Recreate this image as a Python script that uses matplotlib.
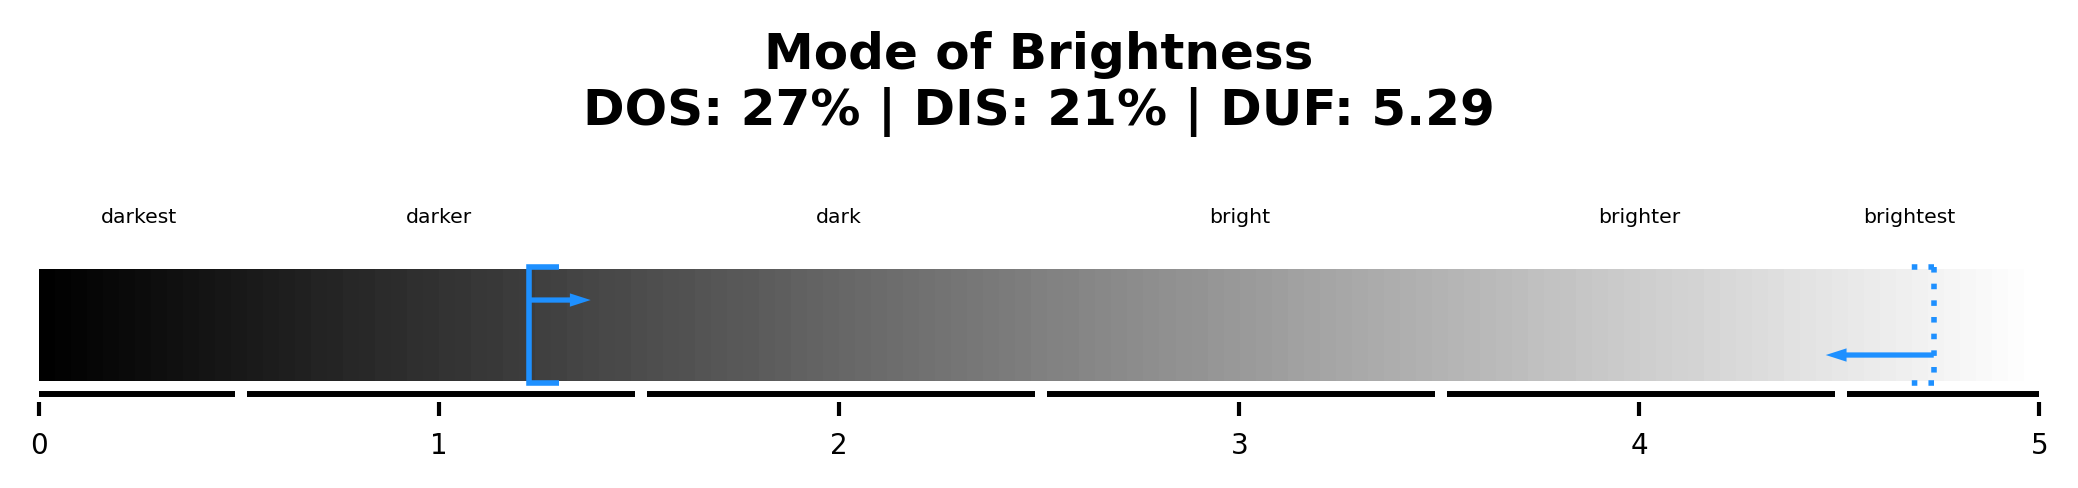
import numpy as np
import matplotlib
matplotlib.use("Agg")
import matplotlib.pyplot as plt

# brightness categories and where their names sit on the scale
categories = ["darkest", "darker", "dark", "bright", "brighter", "brightest"]
label_pos = [0.25, 1.0, 2.0, 3.0, 4.0, 4.675]
# black segment lines under the gradient (one per category)
seg_start = [0.0, 0.52, 1.52, 2.52, 3.52, 4.52]
seg_end = [0.49, 1.49, 2.49, 3.49, 4.49, 5.0]
ticks = [0, 1, 2, 3, 4, 5]

# summary values
dos = 27
dis = 21
duf = 5.29

# markers: solid bracket with right arrow, dotted bracket with left arrow
left_mark = 1.2235
left_arrow_len = 0.155
right_mark = 4.736
right_arrow_len = 0.27

BLUE = "#1E90FF"


def draw_bracket(ax, x, direction, ls, arrow_y, arrow_len):
    """Vertical marker with two caps and an arrow, caps/arrow point to `direction`."""
    top, bot = 1.02, -0.02
    cap = 0.076 * direction
    if ls == "solid":
        ax.plot([x + cap, x, x, x + cap], [top, top, bot, bot], color=BLUE, lw=4,
                solid_joinstyle="miter", solid_capstyle="butt")
    else:
        dots = (0, (1, 2))
        ax.plot([x, x], [top, bot], color=BLUE, lw=4, linestyle=dots)
        ax.plot([x, x + cap], [top, top], color=BLUE, lw=4, linestyle=dots)
        ax.plot([x, x + cap], [bot, bot], color=BLUE, lw=4, linestyle=dots)
    ax.arrow(x, arrow_y, arrow_len * direction, 0, width=0.047, head_width=0.119,
             head_length=0.052, length_includes_head=True, color=BLUE, lw=0)


fig = plt.figure(figsize=(20.78, 4.88), dpi=100)
ax = fig.add_axes([0.0189, 0.1768, 0.9625, 0.4326])

# gradient bar, black -> white (last cell is white, so the visible bar stops near 4.96)
grad = np.linspace(0, 1, 125).reshape(1, -1)
ax.imshow(grad, cmap="gray", vmin=0, vmax=1, aspect="auto",
          extent=[0, 5, 0, 1], interpolation="nearest")

for a, b in zip(seg_start, seg_end):
    ax.plot([a, b], [-0.116, -0.116], color="black", lw=4.3, solid_capstyle="butt")

for name, x in zip(categories, label_pos):
    ax.text(x, 1.408, name, ha="center", va="baseline", fontsize=14.7)

draw_bracket(ax, left_mark, 1, "solid", 0.723, left_arrow_len)
draw_bracket(ax, right_mark, -1, "dotted", 0.232, right_arrow_len)

ax.set_xlim(0, 5)
ax.set_ylim(-0.185, 1.7)
ax.set_xticks(ticks)
ax.set_yticks([])
ax.tick_params(axis="x", length=10, width=3, pad=11.5, labelsize=20)
for sp in ax.spines.values():
    sp.set_visible(False)

# va="baseline" on a two-line text anchors the last line
fig.text(0.5, (488 - 125) / 488,
         "Mode of Brightness\nDOS: %d%% | DIS: %d%% | DUF: %.2f" % (dos, dis, duf),
         ha="center", va="baseline", fontsize=36, fontweight="bold")

fig.savefig("out.png", dpi=100)
